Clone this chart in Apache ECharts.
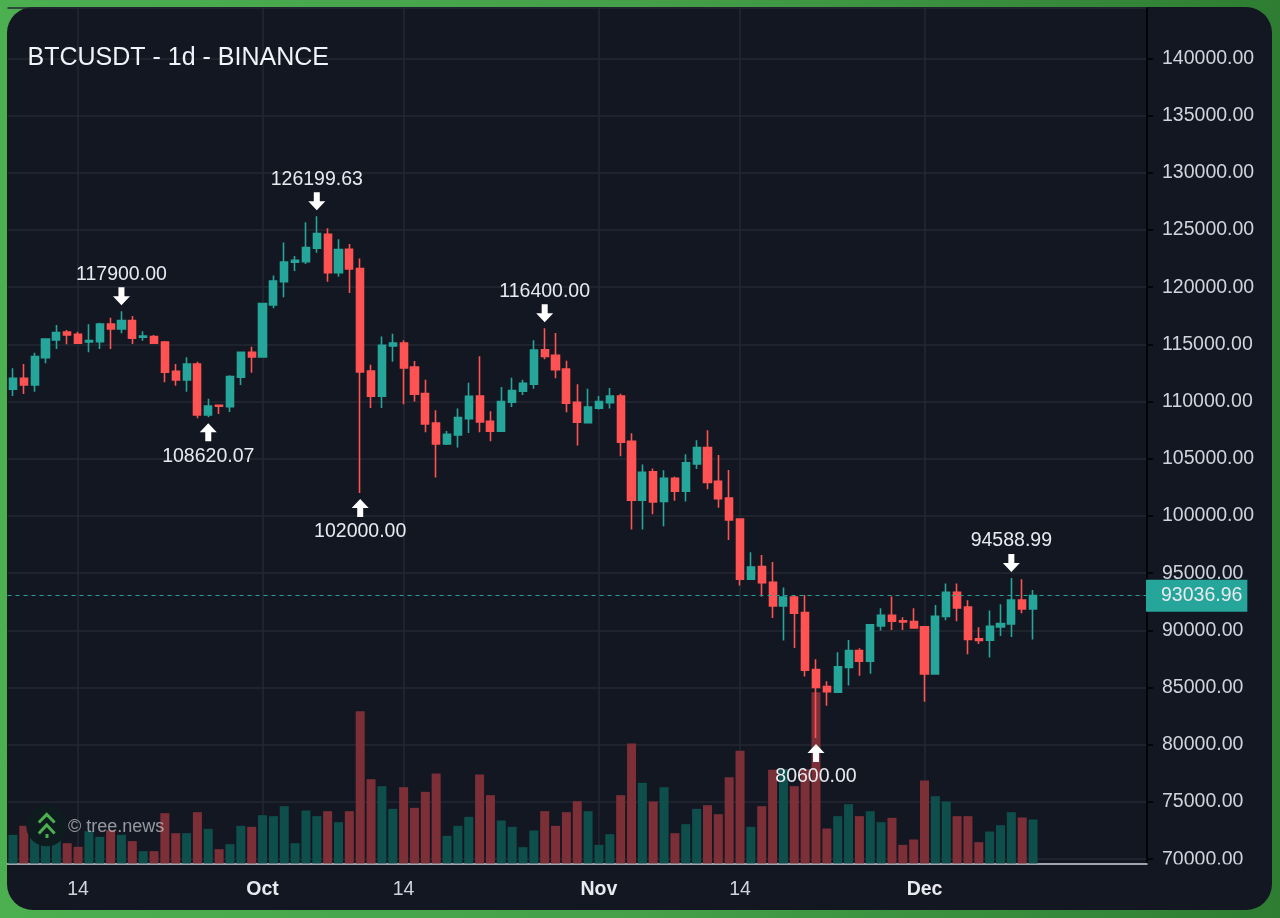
<!DOCTYPE html>
<html>
<head>
<meta charset="utf-8">
<style>
html,body{margin:0;padding:0;width:1280px;height:918px;overflow:hidden;background:linear-gradient(90deg,#4caf50 0%,#45a049 50%,#2e7d32 100%);}
#card{position:absolute;left:7px;top:7px;width:1265px;height:903px;border-radius:26px;background:#131722;}
#chart{position:absolute;left:0;top:0;width:1280px;height:918px;}
</style>
</head>
<body>
<div id="card"></div>
<div id="chart"></div>
<script src="https://cdn.jsdelivr.net/npm/echarts@6/dist/echarts.min.js"></script>
<script>
const titleText = 'BTCUSDT - 1d - BINANCE';
const watermarkText = '© tree.news';
const startDate = '2025-09-08';
const bandCount = 105;
const tickLabels = {'2025-09-14':'14','2025-10-01':'Oct','2025-10-14':'14','2025-11-01':'Nov','2025-11-14':'14','2025-12-01':'Dec'};
const lastPrice = 93036.96;
const opens = [111071,112033,111450,113840,115384,116083,115879,115209,115238,116783,116346,117074,115617,115675,115209,112645,111887,113286,108827,109672,109556,112120,114305,113898,118444,120483,122173,122232,123397,124621,121270,123310,121620,112672,110460,114855,115116,113021,110693,108132,106299,107085,108511,110490,108278,107405,109937,110897,111508,114534,114040,112847,109937,108161,109413,109908,110490,106532,101381,103855,101265,103302,102167,104553,105979,103021,101566,99733,94466,95572,94204,92138,92923,91556,86580,85096,84601,86754,88238,87307,90392,91323,90828,90770,90305,86201,91207,93331,92050,89257,89140,90305,90566,92662,91876];
const closes = [112033,111450,113927,115471,116025,115821,115092,115325,116783,116346,117074,115530,115733,115092,112557,111887,113286,108827,109614,109585,112178,114305,113898,118560,120542,122203,122348,123456,124679,121270,123281,121591,112585,110460,114913,115116,112934,110635,108045,106299,107143,108598,110460,108220,107405,109995,110955,111595,114505,113952,112788,109849,108191,109529,109995,110490,106445,101381,103826,101236,103302,102167,104640,105979,102924,101508,99645,94466,95542,94175,92138,92923,91498,86521,85008,84630,86813,88238,87307,90479,91323,90799,90741,90217,86201,91236,93331,91963,89199,89111,90363,90595,92662,91876,93036.96];
const lows = [110488,110663,110867,113344,114597,115005,115034,114306,114597,114597,115967,115034,115325,115063,111683,111392,110867,108536,108620.07,108915,109090,111450,112528,113869,118152,119114,121416,122028,123018,120483,120920,119493,102000,109442,109442,113487,109762,109995,107318,103360,106212,105979,107259,107318,106532,107405,109529,110577,111130,113690,112032,109064,106154,108132,109296,109384,105222,98820,98820,100159,99111,101323,101265,104116,102342,100722,97900,93913,94466,92953,91090,89111,88471,85969,80600,83408,84572,85183,86027,86201,89984,90043,90043,90159,83757,86143,90887,90799,87918,88820,87627,89519,89431,91498,89199];
const highs = [112907,113286,114276,115530,116695,116258,116112,116753,116899,117336,117900,117482,116141,115821,115296,113286,113869,113490,110255,109730,112295,114364,114801,118648,121008,123893,122727,125670,126199.63,125146,124184,123776,122494,113225,115698,115931,115349,113545,111915,109238,107434,109384,111654,113953,109151,111275,112090,111915,115349,116400,115989,113574,111508,111130,110490,111188,110693,107230,104495,104146,104000,103418,105397,106619,107492,105320,104011,99791,96823,96590,95979,93738,93011,93098,87482,85561,88093,89170,88442,90566,91934,92953,91148,91934,90363,92225,94087,94087,92633,90275,91730,92283,94588.99,94466,93535];
const volumes = [12040,15820,11900,10500,10500,8540,7000,13580,11200,14000,12040,9380,5180,5180,21140,12740,12740,21560,14560,6020,8120,15820,15400,20300,19880,24080,8540,22260,19880,21980,17360,21980,63980,35420,32480,22960,32060,23380,30100,37800,11620,15820,19600,37380,28700,18060,15400,6860,13860,21980,15820,21560,26180,21980,7840,12320,28700,50400,33880,26040,32060,12740,16520,22960,24500,20720,36260,47320,15400,24080,39340,39620,32480,39620,71960,14700,19880,24920,19880,21980,17360,19180,7840,10080,34860,28280,26040,19880,19880,8960,13440,16100,21560,19320,18480];
const peakIndex = [10,28,49,92];
const troughIndex = [18,32,74];

const categories = [];
for (let i = 0; i < bandCount; i++) {
  const d = new Date(startDate + 'T00:00:00Z');
  d.setUTCDate(d.getUTCDate() + i);
  categories.push(d.toISOString().slice(0,10));
}
const candleData = opens.map((o,i) => [o, closes[i], lows[i], highs[i]]);
const upRed = '#ff5252', upGreen = '#26a69a';
const volumeData = volumes.map((v,i) => ({
  value: v,
  itemStyle: {color: closes[i] >= opens[i] ? '#0e4f4c' : '#7c2f37'}
}));
const isTick = (idx, name) => Object.prototype.hasOwnProperty.call(tickLabels, name);
const arrowUp = 'path://M8.5 0 L17 9 L11.5 9 L11.5 18 L5.5 18 L5.5 9 L0 9 Z';
const arrowDown = 'path://M5.5 0 L11.5 0 L11.5 9 L17 9 L8.5 18 L0 9 L5.5 9 Z';
const markData = [
  ...peakIndex.map(i => ({
    coord: [categories[i], highs[i]], value: highs[i].toFixed(2),
    symbol: arrowDown, symbolOffset: [0,-15],
    label: {position:'top', distance: 3}
  })),
  ...troughIndex.map(i => ({
    coord: [categories[i], lows[i]], value: lows[i].toFixed(2),
    symbol: arrowUp, symbolOffset: [0,15],
    label: {position:'bottom', distance: 5}
  }))
];
const font = '"Liberation Sans", Arial, sans-serif';
const chart = echarts.init(document.getElementById('chart'), null, {renderer:'canvas'});
chart.setOption({
  animation: false,
  backgroundColor: 'transparent',
  title: {text: titleText, left: 22.5, top: 41, textStyle: {color:'#f0f3fa', fontSize:25, fontWeight:'normal', fontFamily:font}},
  grid: [
    {left:7.5, right:133, top:8, bottom:58.8},
    {left:7.5, right:133, top:8, bottom:54.5}
  ],
  xAxis: [
    {type:'category', gridIndex:0, data:categories, show:false, boundaryGap:true},
    {type:'category', gridIndex:1, data:categories, boundaryGap:true,
      axisLine:{lineStyle:{color:'#d1d4dc', width:1.5}},
      axisTick:{alignWithLabel:true, interval:isTick, length:6, lineStyle:{color:'#d1d4dc', width:1.5}},
      splitLine:{show:true, alignWithLabel:true, interval:isTick, lineStyle:{color:'#242833', width:1.5}},
      axisLabel:{interval:isTick, margin:16, color:'#d1d4dc', fontSize:19.5, fontFamily:font,
        formatter:(name) => {
          const t = tickLabels[name];
          return t === '14' ? t : '{b|' + t + '}';
        },
        rich:{b:{fontWeight:'bold', fontSize:19.5, color:'#e8eaf0', fontFamily:font}}
      }
    }
  ],
  yAxis: [
    {type:'value', gridIndex:0, position:'right', min:70000, max:144400, interval:5000, scale:false,
      axisLine:{show:false},
      axisTick:{show:true, length:6, lineStyle:{color:'#000000', width:1.5}},
      splitLine:{show:true, lineStyle:{color:'#242833', width:1.5}},
      axisLabel:{show:true, margin:15, showMaxLabel:false, color:'#d1d4dc', fontSize:19.5, fontFamily:font,
        formatter:(v) => v.toFixed(2)}
    },
    {type:'value', gridIndex:1, position:'right', min:0, max:359310,
      axisLine:{show:true, onZero:false, lineStyle:{color:'#000000', width:1.5}},
      axisTick:{show:false}, axisLabel:{show:false}, splitLine:{show:false}
    }
  ],
  series: [
    {type:'bar', name:'Volume', xAxisIndex:1, yAxisIndex:1, data:volumeData, barWidth:9, z:1, silent:true},
    {type:'candlestick', name:'BTCUSDT', xAxisIndex:0, yAxisIndex:0, data:candleData, barWidth:7.6, z:3,
      itemStyle:{color:upGreen, color0:upRed, borderColor:upGreen, borderColor0:upRed, borderWidth:1.6},
      markLine:{silent:true, symbol:'none', animation:false,
        lineStyle:{color:upGreen, type:[4,4], width:1.2},
        label:{show:true, position:'end', distance:-1, formatter:() => lastPrice.toFixed(2), color:'#e8eaf0', fontSize:19.5, fontFamily:font,
          backgroundColor:upGreen, padding:[6,5,6,15]},
        data:[{yAxis:lastPrice}]
      },
      markPoint:{silent:true, symbolSize:[17,18], itemStyle:{color:'#ffffff'}, animation:false,
        label:{show:true, color:'#e8eaf0', fontSize:19.5, fontFamily:font, formatter:'{c}'},
        data:markData
      }
    }
  ],
  graphic: [
    {type:'rect', z:100, shape:{x:1149, y:864.5, width:120, height:14}, style:{fill:'#131722'}},
    {type:'circle', z:100, shape:{cx:46.7, cy:825.7, r:20.5}, style:{fill:'#0f1c1f'}},
    {type:'polyline', z:101, shape:{points:[[38.8,822.5],[46.7,814.5],[54.6,822.5]]}, style:{stroke:'#4caf50', lineWidth:3, fill:null}},
    {type:'polyline', z:101, shape:{points:[[38.8,833.5],[46.7,825],[54.6,833.5]]}, style:{stroke:'#4caf50', lineWidth:3, fill:null}},
    {type:'rect', z:101, shape:{x:45.5, y:834, width:3, height:4}, style:{fill:'#4caf50'}},
    {type:'text', z:101, x:68, y:827, style:{text:watermarkText, fill:'rgba(200,203,210,0.72)', fontSize:18, fontFamily:font, verticalAlign:'middle', align:'left'}}
  ]
});
</script>
</body>
</html>
